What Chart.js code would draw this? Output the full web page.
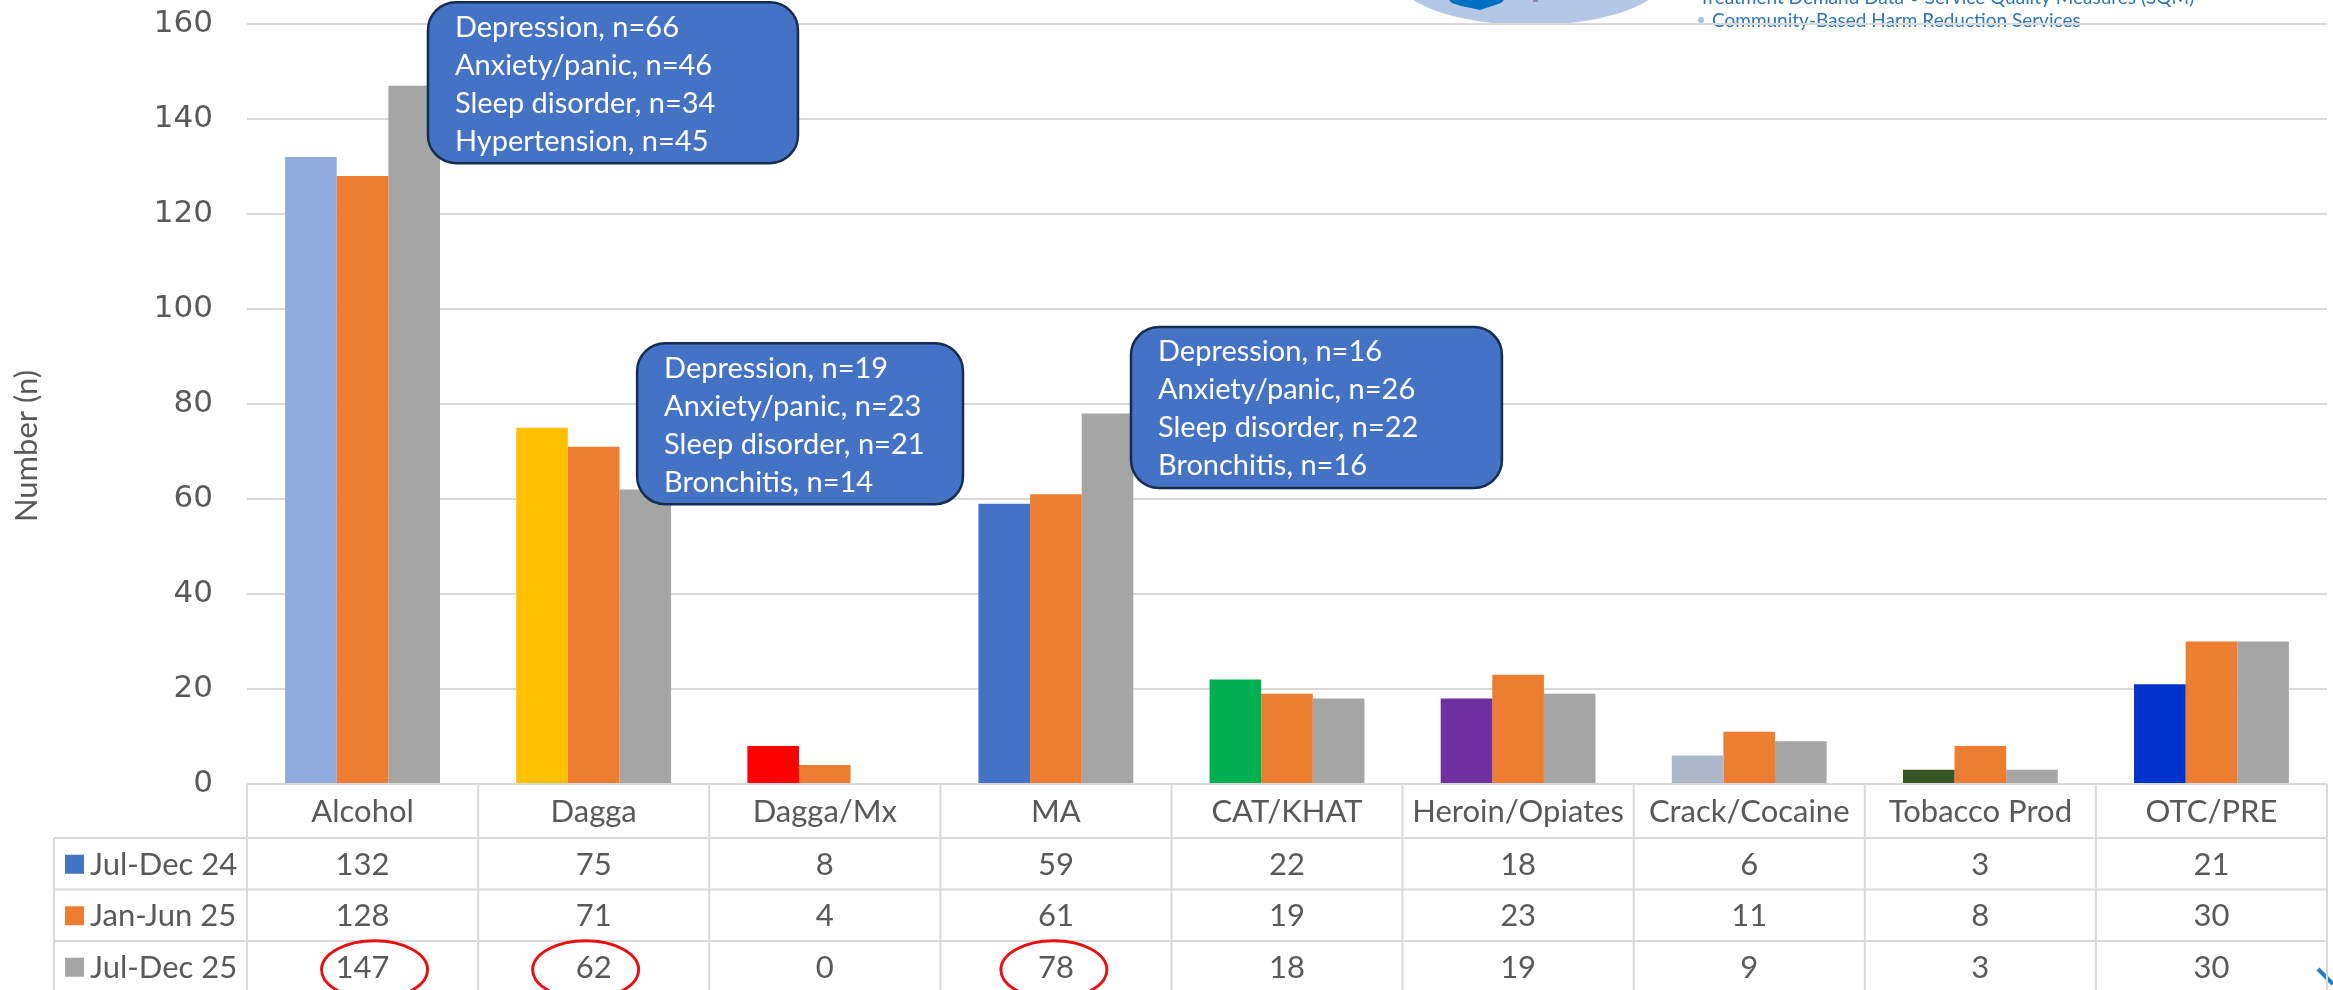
<!DOCTYPE html>
<html>
<head>
<meta charset="utf-8">
<script src="https://cdn.jsdelivr.net/npm/chart.js@4/dist/chart.umd.min.js"></script>
<style>
  html, body { margin: 0; padding: 0; background: #ffffff; }
  #wrap { width: 2333px; height: 990px; position: relative; }
</style>
</head>
<body>
<div id="wrap"><canvas id="chart" width="2333" height="990"></canvas></div>
<script>
// Substances reported at treatment entry, three reporting periods
const categories = ['Alcohol', 'Dagga', 'Dagga/Mx', 'MA', 'CAT/KHAT', 'Heroin/Opiates', 'Crack/Cocaine', 'Tobacco Prod', 'OTC/PRE'];
const seriesNames = ['Jul-Dec 24', 'Jan-Jun 25', 'Jul-Dec 25'];
const julDec24 = [132, 75, 8, 59, 22, 18, 6, 3, 21];
const janJun25 = [128, 71, 4, 61, 19, 23, 11, 8, 30];
const julDec25 = [147, 62, 0, 78, 18, 19, 9, 3, 30];
const yTicks = { min: 0, max: 160, step: 20 };
const yTitle = 'Number (n)';

// Co-occurring conditions noted for the three main substances
const alcoholConditions = ['Depression, n=66', 'Anxiety/panic, n=46', 'Sleep disorder, n=34', 'Hypertension, n=45'];
const daggaConditions = ['Depression, n=19', 'Anxiety/panic, n=23', 'Sleep disorder, n=21', 'Bronchitis, n=14'];
const maConditions = ['Depression, n=16', 'Anxiety/panic, n=26', 'Sleep disorder, n=22', 'Bronchitis, n=16'];

// Latest-period values that are circled in the table
const circledCategories = ['Alcohol', 'Dagga', 'MA'];

const headerLines = ['Treatment Demand Data \u2022 Service Quality Measures (SQM)', 'Community-Based Harm Reduction Services'];

// ---- styling ----
const firstSeriesColors = ['#8FAADC', '#FFC000', '#FF0000', '#4472C4', '#00B050', '#7030A0', '#ADB9CA', '#375623', '#0033CC'];
const seriesColors = ['#4472C4', '#ED7D31', '#A5A5A5'];
const textGrey = '#595959';
const lineGrey = '#D9D9D9';
const tableFont = '31px Lato';

// Callout boxes, placed in axis units (category index, value)
const callouts = [
  { lines: alcoholConditions, x0: 0.283, x1: 1.884, yTop: 164.6 },
  { lines: daggaConditions, x0: 1.188, x1: 2.598, yTop: 92.8 },
  { lines: maConditions, x0: 3.325, x1: 4.930, yTop: 96.2 }
];
const calloutStyle = { height: 161, radius: 28, fill: '#4472C4', stroke: '#172C51', font: '29px Lato', padX: 27, firstLine: 25, lineGap: 38 };
const circleOffsets = { 'Alcohol': 12, 'Dagga': -8, 'MA': -2 };

const tableLayout = { legendLeft: 54, headerH: 54, rowH: 51.5 };
const titleStyle = { font: '31px Lato', x: 27, y: 446 };

const tablePlugin = {
  id: 'dataTable',
  afterDraw(chart) {
    const { ctx, chartArea: a, scales: { x } } = chart;
    const n = categories.length;
    const colW = (a.right - a.left) / n;
    const top = a.bottom;
    const rowTops = [top + tableLayout.headerH];
    for (let r = 1; r <= seriesNames.length; r++) rowTops.push(rowTops[0] + r * tableLayout.rowH);
    const bottom = chart.height;

    ctx.save();
    ctx.strokeStyle = lineGrey;
    ctx.lineWidth = 2;
    ctx.beginPath();
    // header top edge
    ctx.moveTo(a.left, top); ctx.lineTo(a.right, top);
    // row separators
    for (let r = 0; r < seriesNames.length; r++) {
      ctx.moveTo(tableLayout.legendLeft, rowTops[r]); ctx.lineTo(a.right, rowTops[r]);
    }
    // column separators
    for (let i = 0; i <= n; i++) {
      const xx = a.left + i * colW;
      ctx.moveTo(xx, top); ctx.lineTo(xx, bottom);
    }
    ctx.moveTo(tableLayout.legendLeft, rowTops[0]); ctx.lineTo(tableLayout.legendLeft, bottom);
    ctx.stroke();

    ctx.fillStyle = textGrey;
    ctx.font = tableFont;
    ctx.textAlign = 'center';
    ctx.textBaseline = 'middle';
    categories.forEach((c, i) => {
      ctx.fillText(c, x.getPixelForValue(i), (top + rowTops[0]) / 2 + 1);
    });
    const rows = [julDec24, janJun25, julDec25];
    rows.forEach((vals, r) => {
      const cy = rowTops[r] + tableLayout.rowH / 2 + 1;
      ctx.textAlign = 'center';
      ctx.fillStyle = textGrey;
      vals.forEach((v, i) => ctx.fillText(String(v), x.getPixelForValue(i), cy));
      // legend key
      ctx.fillStyle = seriesColors[r];
      ctx.fillRect(65, cy - 10, 19, 19);
      ctx.fillStyle = textGrey;
      ctx.textAlign = 'left';
      ctx.fillText(seriesNames[r], 90, cy);
    });

    // circled values in the latest period
    const lastRow = seriesNames.length - 1;
    const cyLast = rowTops[lastRow] + tableLayout.rowH / 2 + 1;
    ctx.strokeStyle = '#E81010';
    ctx.lineWidth = 3;
    circledCategories.forEach(c => {
      const i = categories.indexOf(c);
      ctx.beginPath();
      ctx.ellipse(x.getPixelForValue(i) + circleOffsets[c], cyLast + 2, 53, 29, 0, 0, Math.PI * 2);
      ctx.stroke();
    });

    // vertical axis title
    ctx.save();
    ctx.translate(titleStyle.x, titleStyle.y);
    ctx.rotate(-Math.PI / 2);
    ctx.font = titleStyle.font;
    ctx.fillStyle = textGrey;
    ctx.textAlign = 'center';
    ctx.textBaseline = 'middle';
    ctx.fillText(yTitle, 0, 0);
    ctx.restore();
    ctx.restore();
  }
};

const calloutPlugin = {
  id: 'callouts',
  afterDatasetsDraw(chart) {
    const { ctx, scales: { x, y } } = chart;
    ctx.save();
    callouts.forEach(c => {
      const l = x.getPixelForValue(c.x0), r = x.getPixelForValue(c.x1);
      const t = y.getPixelForValue(c.yTop);
      ctx.beginPath();
      ctx.roundRect(l, t, r - l, calloutStyle.height, calloutStyle.radius);
      ctx.fillStyle = calloutStyle.fill;
      ctx.fill();
      ctx.lineWidth = 2.5;
      ctx.strokeStyle = calloutStyle.stroke;
      ctx.stroke();
      ctx.fillStyle = '#ffffff';
      ctx.font = calloutStyle.font;
      ctx.textAlign = 'left';
      ctx.textBaseline = 'middle';
      c.lines.forEach((s, k) => ctx.fillText(s, l + calloutStyle.padX, t + calloutStyle.firstLine + k * calloutStyle.lineGap));
    });
    ctx.restore();
  }
};

// Organisation banner at the top right, partly outside the page
const bannerPlugin = {
  id: 'banner',
  beforeDraw(chart) {
    const ctx = chart.ctx;
    ctx.save();
    ctx.fillStyle = '#B4C7E7';
    ctx.beginPath();
    ctx.ellipse(1531, -22, 133, 47, 0, 0, Math.PI * 2);
    ctx.fill();
    ctx.fillStyle = '#0070C0';
    ctx.beginPath();
    ctx.moveTo(1447, -2); ctx.lineTo(1506, -2); ctx.lineTo(1501, 3); ctx.lineTo(1492, 6);
    ctx.lineTo(1480, 10); ctx.lineTo(1471, 8); ctx.lineTo(1461, 6); ctx.lineTo(1452, 3);
    ctx.closePath();
    ctx.fill();
    ctx.fillStyle = '#8E7CC3';
    ctx.fillRect(1533, -2, 5, 4);
    ctx.font = '19px Lato';
    ctx.textBaseline = 'alphabetic';
    ctx.textAlign = 'left';
    ctx.fillStyle = '#2E75B6';
    ctx.fillText(headerLines[0], 1699, 4);
    ctx.fillText(headerLines[1], 1712, 27);
    ctx.fillStyle = '#9DC3E6';
    ctx.beginPath();
    ctx.arc(1701, 20, 3, 0, Math.PI * 2);
    ctx.fill();
    // corner mark
    ctx.strokeStyle = '#1F7FC4';
    ctx.lineWidth = 4;
    ctx.beginPath();
    ctx.moveTo(2318, 969); ctx.lineTo(2333, 984);
    ctx.stroke();
    ctx.restore();
  }
};

new Chart(document.getElementById('chart'), {
  type: 'bar',
  data: {
    labels: categories,
    datasets: [
      { label: seriesNames[0], data: julDec24, backgroundColor: firstSeriesColors },
      { label: seriesNames[1], data: janJun25, backgroundColor: seriesColors[1] },
      { label: seriesNames[2], data: julDec25, backgroundColor: seriesColors[2] }
    ]
  },
  options: {
    responsive: false,
    animation: false,
    devicePixelRatio: 1,
    layout: { padding: { top: 24, right: 6, bottom: 206, left: 0 } },
    datasets: { bar: { categoryPercentage: 0.67, barPercentage: 1.0, borderWidth: 0 } },
    plugins: { legend: { display: false }, tooltip: { enabled: false } },
    scales: {
      x: { display: false },
      y: {
        min: yTicks.min,
        max: yTicks.max,
        ticks: { stepSize: yTicks.step, color: textGrey, font: { family: 'DejaVu Sans', size: 31 }, padding: 34 },
        grid: { color: lineGrey, lineWidth: 2, drawTicks: false },
        border: { display: false },
        title: { display: false },
        afterFit(scale) {
          scale.width = 247;
          scale.paddingTop = 0;
          scale.paddingBottom = 0;
        }
      }
    }
  },
  plugins: [bannerPlugin, calloutPlugin, tablePlugin]
});
</script>
</body>
</html>
